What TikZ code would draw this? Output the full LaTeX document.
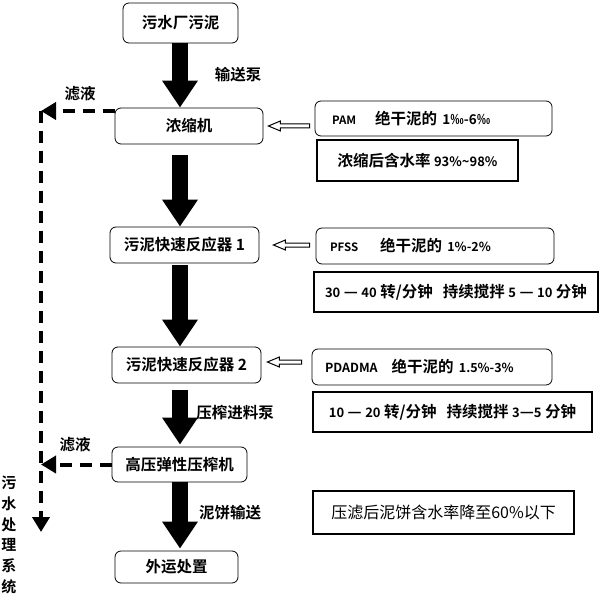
\documentclass[tikz,border=0pt]{standalone}
\usepackage{fontspec}
\setmainfont{Noto Sans CJK SC}[BoldFont={Noto Sans CJK SC Bold}]
\usetikzlibrary{arrows.meta,calc}
\newcommand{\fs}[1]{\fontsize{#1}{#1}\selectfont}
\tikzset{
  proc/.style={draw, rounded corners=6pt, line width=0.8pt, font=\bfseries\fs{15.5}, inner sep=0pt},
  rnote/.style={draw, rounded corners=6pt, line width=0.8pt, font=\bfseries\fs{15.5}, inner sep=0pt, align=left},
  snote/.style={draw, line width=1.2pt, font=\bfseries\fs{15.5}, inner sep=0pt},
  bigarrow/.style={line width=16pt, -{Triangle[width=34pt,length=27pt]}},
  filt/.style={line width=4pt, dash pattern=on 12pt off 8pt, -{Triangle[width=17pt,length=15pt]}},
  hollow/.style={draw, line width=1pt, fill=white},
  lbl/.style={font=\bfseries\fs{15.5}, inner sep=0pt},
}
\newcommand{\hollowarrow}[2]{%
  \draw[hollow] (#2) -- ($(#2)+(12,-5)$) -- ($(#2)+(12,-2)$) -- ($(#1)+(0,-2)$)
    -- ($(#1)+(0,2)$) -- ($(#2)+(12,2)$) -- ($(#2)+(12,5)$) -- cycle;}
\begin{document}
\begin{tikzpicture}[x=1pt,y=-1pt]
\useasboundingbox (0,0) rectangle (600,601);
\coordinate (ax) at (180,0);
% main chain
\node[proc, minimum width=115pt, minimum height=40pt] (n1) at (180.5,23) {污水厂污泥};
\node[proc, minimum width=148pt, minimum height=36pt] (n2) at (189,126) {浓缩机};
\node[proc, minimum width=149pt, minimum height=36pt] (n3) at (184.5,245) {污泥快速反应器 1};
\node[proc, minimum width=149pt, minimum height=36pt] (n4) at (186.5,365) {污泥快速反应器 2};
\node[proc, minimum width=135pt, minimum height=35pt] (n5) at (179.5,464.5) {高压弹性压榨机};
\node[proc, minimum width=123pt, minimum height=32pt] (n6) at (176.5,567) {外运处置};
\draw[bigarrow] (n1.south -| ax) -- (n2.north -| ax);
\draw[bigarrow, shorten <=11pt] (n2.south -| ax) -- (n3.north -| ax);
\draw[bigarrow, shorten <=2pt] (n3.south -| ax) -- (n4.north -| ax);
\draw[bigarrow, shorten <=7pt, shorten >=2pt] (n4.south -| ax) -- (n5.north -| ax);
\draw[bigarrow, shorten >=2pt] (n5.south -| ax) -- (n6.north -| ax);
\node[lbl] (l1) at (238,75) {输送泵};
\node[lbl] (l2) at (235,413) {压榨进料泵};
\node[lbl] (l3) at (230,513) {泥饼输送};
% filtrate
\coordinate (f1) at (41,111);
\coordinate (sink) at (41,532);
\draw[filt] (n2.west |- f1) -- (f1);
\draw[filt] (f1) -- (sink);
\draw[filt] (n5.west) -- (n5.west -| f1);
\node[lbl] (l4) at (80,94) {滤液};
\node[lbl] (l5) at (75,445) {滤液};
\node[font=\bfseries\fontsize{15}{20.8}\selectfont, inner sep=0pt, align=center] (sys) at (9,535)
  {污\\水\\处\\理\\系\\统};
% right notes
\node[rnote, minimum width=237pt, minimum height=35pt, text width=203pt] (pam) at (433.5,118.5)
  {{\fs{11.5}PAM}\hspace{19pt}绝干泥的 {\fs{13.5}1‰-6‰}};
\node[snote, minimum width=201pt, minimum height=41pt] (c1) at (417.5,160.5)
  {浓缩后含水率 {\fs{13}93\%\textasciitilde 98\%}};
\node[rnote, minimum width=238pt, minimum height=36pt, text width=210pt] (pfss) at (435,246)
  {{\fs{11.5}PFSS}\hspace{22pt}绝干泥的 {\fs{12.5}1\%-2\%}};
\node[snote, minimum width=284pt, minimum height=40pt] (c2) at (456,292)
  {{\fs{13}30} — {\fs{13}40} 转/分钟\hspace{10pt}持续搅拌 {\fs{13}5} — {\fs{13}10} 分钟};
\node[rnote, minimum width=240pt, minimum height=36pt, text width=214pt] (pda) at (432,367)
  {{\fs{12.5}PDADMA}\hspace{14pt}绝干泥的 {\fs{12.5}1.5\%-3\%}};
\node[snote, minimum width=279pt, minimum height=40pt] (c3) at (452.5,412)
  {{\fs{13}10} — {\fs{13}20} 转/分钟\hspace{10pt}持续搅拌 {\fs{13}3}—{\fs{13}5} 分钟};
\node[snote, minimum width=261pt, minimum height=43pt, font=\fs{16}] (c4) at (443.5,512.5)
  {压滤后泥饼含水率降至60\%以下};
% hollow arrows
\coordinate (h1a) at ($(pam.west |- n2)+(-5,0)$);
\coordinate (h1b) at ($(n2.east)+(5,0)$);
\hollowarrow{h1a}{h1b}
\coordinate (h2a) at ($(pfss.west |- n3)+(-6,0)$);
\coordinate (h2b) at ($(n3.east)+(14,0)$);
\hollowarrow{h2a}{h2b}
\coordinate (h3a) at ($(pda.west |- 0,362)+(-10,0)$);
\coordinate (h3b) at ($(n4.east |- 0,362)+(6,0)$);
\hollowarrow{h3a}{h3b}
\end{tikzpicture}
\end{document}
